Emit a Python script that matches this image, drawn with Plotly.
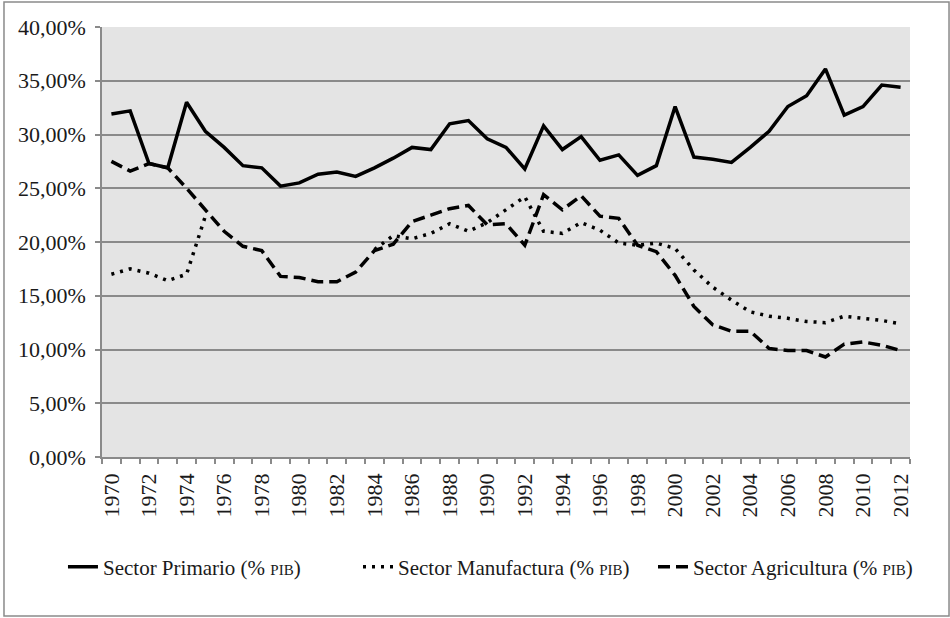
import plotly.graph_objects as go

years = list(range(1970, 2013))

primario = [31.9, 32.2, 27.3, 26.9, 33.0, 30.3, 28.8, 27.1, 26.9, 25.2,
            25.5, 26.3, 26.5, 26.1, 26.9, 27.8, 28.8, 28.6, 31.0, 31.3,
            29.6, 28.8, 26.8, 30.8, 28.6, 29.8, 27.6, 28.1, 26.2, 27.1,
            32.6, 27.9, 27.7, 27.4, 28.8, 30.3, 32.6, 33.6, 36.1, 31.8,
            32.6, 34.6, 34.4]

manufactura = [17.0, 17.5, 17.1, 16.4, 17.0, 22.4, None, None, None, None,
               None, None, None, None, 19.3, 20.6, 20.3, 20.8, 21.7, 21.0,
               21.8, 23.0, 24.2, 21.0, 20.8, 21.8, 21.1, 19.9, 19.7, 19.9,
               19.4, 17.4, 15.8, 14.6, 13.5, 13.1, 12.9, 12.6, 12.5, 13.1,
               12.9, 12.7, 12.4]

agricultura = [27.5, 26.6, 27.3, 26.9, 25.0, 23.0, 21.0, 19.6, 19.2, 16.8,
               16.7, 16.3, 16.3, 17.2, 19.2, 19.8, 21.9, 22.5, 23.1, 23.4,
               21.6, 21.7, 19.7, 24.4, 23.0, 24.3, 22.4, 22.2, 19.7, 19.1,
               16.9, 14.0, 12.3, 11.7, 11.7, 10.1, 9.9, 9.9, 9.3, 10.5,
               10.7, 10.4, 9.9]

series_names = [
    'Sector Primario (% <span style="font-size:15px">PIB</span>)',
    'Sector Manufactura (% <span style="font-size:15px">PIB</span>)',
    'Sector Agricultura (% <span style="font-size:15px">PIB</span>)',
]

ytick_vals = [0, 5, 10, 15, 20, 25, 30, 35, 40]
ytick_text = ["0,00%", "5,00%", "10,00%", "15,00%", "20,00%", "25,00%",
              "30,00%", "35,00%", "40,00%"]
xtick_vals = list(range(1970, 2013, 2))
xtick_text = [str(y) for y in xtick_vals]

fig = go.Figure()
fig.add_trace(go.Scatter(x=years, y=primario, mode="lines", name=series_names[0],
                         line=dict(color="black", width=3.5)))
fig.add_trace(go.Scatter(x=years, y=manufactura, mode="lines", name=series_names[1],
                         line=dict(color="black", width=3.5, dash="3px,6px"),
                         connectgaps=False))
fig.add_trace(go.Scatter(x=years, y=agricultura, mode="lines", name=series_names[2],
                         line=dict(color="black", width=3.5, dash="12px,6px")))

tick_font = dict(family="Liberation Serif", size=22, color="#1a1a1a")

fig.update_layout(
    width=950, height=618,
    margin=dict(l=102, r=40, t=27, b=161),
    paper_bgcolor="white",
    plot_bgcolor="#e4e4e4",
    font=dict(family="Liberation Serif", size=21, color="#1a1a1a"),
    showlegend=True,
    legend=dict(orientation="h",
                x=-0.0483, xanchor="left", y=-0.2558, yanchor="middle",
                font=dict(family="Liberation Serif", size=21, color="#1a1a1a"),
                itemwidth=30, entrywidth=250, bgcolor="rgba(0,0,0,0)"),
    shapes=[dict(type="rect", xref="paper", yref="paper",
                 x0=-0.1213, x1=1.0483, y0=-0.3698, y1=1.0581,
                 line=dict(color="#8a8a8a", width=1.5), layer="below")],
)

fig.update_xaxes(
    range=[1969.5, 2012.5],
    tickmode="array", tickvals=xtick_vals, ticktext=xtick_text,
    tickangle=-90, tickfont=tick_font, ticklabelstandoff=6,
    ticks="", showgrid=False, zeroline=False,
    showline=True, linecolor="#8a8a8a", linewidth=1.5,
    minor=dict(ticks="outside", tick0=1969.5, dtick=1, ticklen=5,
               tickcolor="#8a8a8a", tickwidth=1.5, showgrid=False),
)
fig.update_yaxes(
    range=[0, 40],
    tickmode="array", tickvals=ytick_vals, ticktext=ytick_text,
    tickfont=tick_font, ticklabelstandoff=5,
    ticks="outside", ticklen=5, tickcolor="#8a8a8a", tickwidth=1.5,
    showgrid=True, gridcolor="#8a8a8a", gridwidth=1.5,
    zeroline=False, showline=True, linecolor="#8a8a8a", linewidth=1.5,
)

fig.write_html("out.html", config={"displayModeBar": False},
               post_script="document.body.style.margin='0px';")
